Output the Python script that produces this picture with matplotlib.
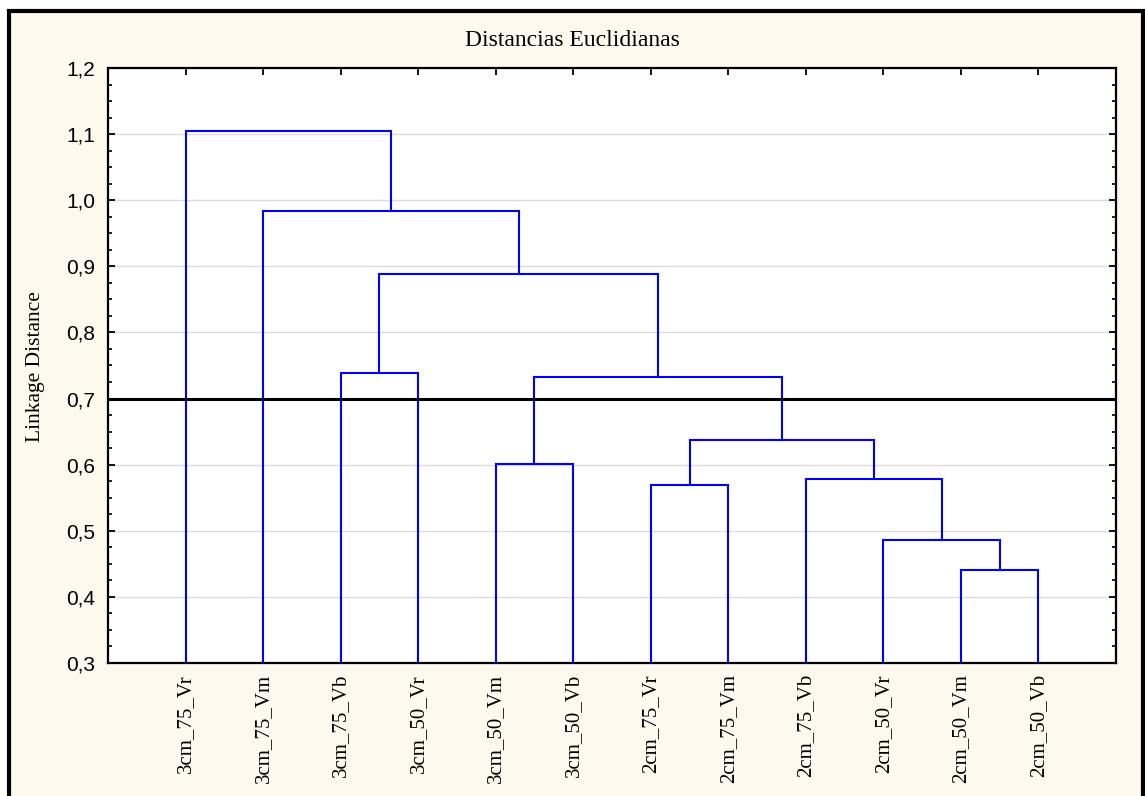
import matplotlib
matplotlib.use("Agg")
import matplotlib.pyplot as plt
from matplotlib.patches import Rectangle
from matplotlib.ticker import MultipleLocator, FixedLocator

# ---- data ----
leaf_labels = ["3cm_75_Vr", "3cm_75_Vm", "3cm_75_Vb", "3cm_50_Vr",
               "3cm_50_Vm", "3cm_50_Vb", "2cm_75_Vr", "2cm_75_Vm",
               "2cm_75_Vb", "2cm_50_Vr", "2cm_50_Vm", "2cm_50_Vb"]
# merges: cluster ids >= 12 refer to earlier merges (12 + step index)
merge_a = [10, 9, 8, 6, 15, 4, 17, 2, 19, 1, 0]
merge_b = [11, 12, 13, 7, 14, 5, 16, 3, 18, 20, 21]
merge_h = [0.441, 0.486, 0.578, 0.569, 0.638, 0.601, 0.733, 0.738, 0.889, 0.983, 1.105]
cut_height = 0.70
yticks = [0.3, 0.4, 0.5, 0.6, 0.7, 0.8, 0.9, 1.0, 1.1, 1.2]
ytick_labels = ["0,3", "0,4", "0,5", "0,6", "0,7", "0,8", "0,9", "1,0", "1,1", "1,2"]

W, H = 1145, 796
fig = plt.figure(figsize=(W / 100, H / 100), dpi=100, facecolor="white")

# outer cream panel with black frame
fig.patches.append(Rectangle((9 / W, -20 / H), (1143 - 9) / W, (H - 11 + 20) / H,
                             transform=fig.transFigure, facecolor="#fdf9ef",
                             edgecolor="black", linewidth=3.0, zorder=-10))

ax = fig.add_axes([108 / W, (H - 663) / H, (1116 - 108) / W, (663 - 68) / H])
ax.set_facecolor("white")

n = len(leaf_labels)
xpos = {i: i + 1 for i in range(n)}
hgt = {i: yticks[0] for i in range(n)}
blue = "#0000ff"
for k, (a, b, h) in enumerate(zip(merge_a, merge_b, merge_h)):
    xa, xb = xpos[a], xpos[b]
    ax.plot([xa, xa, xb, xb], [hgt[a], h, h, hgt[b]], color=blue, lw=1.5,
            solid_joinstyle="miter", zorder=3)
    cid = n + k
    xpos[cid] = (xa + xb) / 2
    hgt[cid] = h

ax.axhline(cut_height, color="black", lw=2.2, zorder=4)

ax.set_xlim(0, n + 1)
ax.set_ylim(yticks[0], yticks[-1])
ax.yaxis.set_major_locator(FixedLocator(yticks))
ax.set_yticklabels(ytick_labels, fontfamily="Liberation Sans", fontsize=15)
ax.yaxis.set_minor_locator(MultipleLocator(0.025))
ax.set_xticks(range(1, n + 1))
ax.set_xticklabels(leaf_labels, rotation=90, fontfamily="Liberation Serif",
                   fontsize=15, va="top", ha="center")
ax.grid(axis="y", color="#dcdcdc", lw=1.0, zorder=0)
ax.set_axisbelow(True)

ax.tick_params(axis="both", which="major", direction="in", length=5, width=1.3,
               top=True, right=True, color="black")
ax.tick_params(axis="y", which="major", pad=9)
ax.tick_params(axis="x", which="major", pad=8)
ax.tick_params(axis="y", which="minor", direction="in", length=3, width=1.2,
               right=True, left=True)
for s in ax.spines.values():
    s.set_linewidth(1.6)
    s.set_color("black")

fig.text(0.5, 1 - 40 / H, "Distancias Euclidianas", ha="center", va="center",
         fontfamily="Liberation Serif", fontsize=17)
fig.text(36 / W, 1 - 367 / H, "Linkage Distance", rotation=90, ha="center",
         va="center", fontfamily="Liberation Serif", fontsize=15.5)

fig.savefig("out.png", dpi=100, facecolor=fig.get_facecolor())
